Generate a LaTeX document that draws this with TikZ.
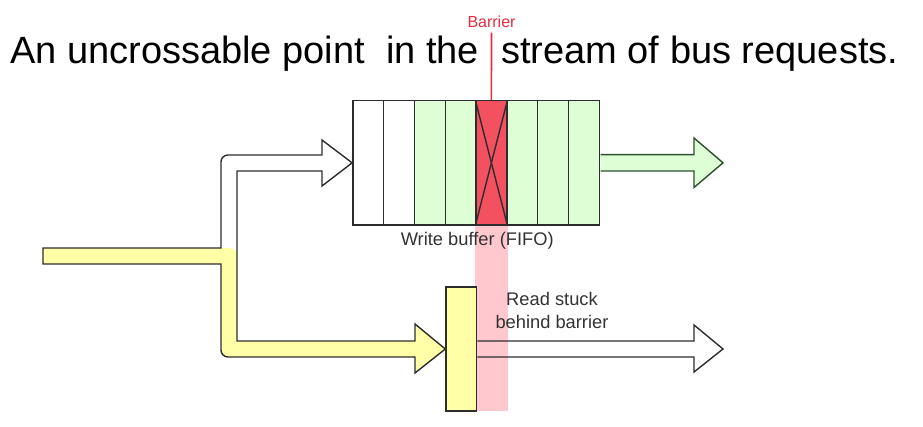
\documentclass[tikz,border=0pt]{standalone}
\usepackage{fontspec}
\setmainfont{Liberation Sans}
\usetikzlibrary{
  matrix,
  calc
}
\definecolor{slotgreen}{RGB}{222,255,213}
\definecolor{slotred}{RGB}{243,80,96}
\definecolor{bandpink}{RGB}{255,200,206}
\definecolor{gateyellow}{RGB}{255,255,168}
\definecolor{linegray}{RGB}{45,45,45}
\definecolor{greenline}{RGB}{48,78,48}
\definecolor{textgray}{RGB}{50,50,50}
\definecolor{barrierred}{RGB}{230,45,65}

\begin{document}
\begin{tikzpicture}[
  x=1pt,
  y=1pt,
  line/.style={
    draw=linegray,
    line width=1.4pt,
  },
  slot/.style={
    draw=linegray,
    line width=1.4pt,
    rectangle,
    fill=white,
    minimum width=30.8pt,
    minimum height=124.3pt,
    inner sep=0pt,
  },
  queued/.style={
    fill=slotgreen
  },
  blocked/.style={
    fill=slotred
  },
  fifo/.style={
    matrix of nodes,
    nodes={slot},
    nodes in empty cells,
    column sep=-1.4pt
  },
  gate/.style={
    line,
    fill=gateyellow,
    minimum width=30.6pt,
    minimum height=124pt,
    inner sep=0pt
  },
  caption/.style={
    text=textgray,
    font=\fontsize{18.3}{23}\selectfont,
    inner sep=0pt
  },
  headline/.style={
    font=\fontsize{38}{44}\selectfont,
    inner sep=0pt,
    anchor=base west
  },
  marker/.style={
    text=barrierred,
    font=\fontsize{16}{18}\selectfont,
    inner sep=0pt,
    anchor=base
  }
]
\useasboundingbox (0,0) rectangle (923,-427);

% Text row
\node[headline] (lead) at (10,-63.3) {An uncrossable point\ \ in the};
\node[headline] (tail) at (501,-63.3) {stream of bus requests.};
\node[marker] (barlbl) at (491.5,-27.7) {Barrier};

% Write buffer
\matrix[fifo] (buf) at (476,-162.85) {
  & & |[queued]| & |[queued]| & |[blocked]| & |[queued]| & |[queued]| & |[queued]| \\
};
\draw[linegray,line width=1.4pt] (buf-1-5.north west) -- (buf-1-5.south east);
\draw[linegray,line width=1.4pt] (buf-1-5.south west) -- (buf-1-5.north east);
\draw[barrierred,line width=1.6pt] ([yshift=-5pt]barlbl.base) -- (buf-1-5.north);
\fill[bandpink] ([yshift=-0.7pt]buf-1-5.south west) rectangle ([yshift=-185pt]buf-1-5.south east);
\node[caption, anchor=base] (buflbl) at ($(buf-1-4.south east)+(0.5,-20)$) {Write buffer (FIFO)};

% Read gate
\node[gate] (gate) at (461.3,-349) {};
\node[caption, align=center, anchor=north] (readlbl) at (552,-292) {Read stuck\\behind barrier};

\coordinate (wout) at (723,-162.8);
\coordinate (rout) at (723,-349);

% Arrows in
\fill[gateyellow] (43,-248) -- (230,-248) arc[start angle=90, end angle=0, radius=7]
  -- (237,-341) -- (415,-341) -- (415,-324) -- (gate.west) -- (415,-373) -- (415,-357)
  -- (228,-357) arc[start angle=270, end angle=180, radius=7] -- (221,-264) -- (43,-264) -- cycle;
\draw[line] (43,-248) -- (221,-248) -- (221,-162) arc[start angle=180, end angle=90, radius=7]
  -- (322,-155) -- (322,-140) -- (buf-1-1.west) -- (322,-186) -- (322,-171) -- (237,-171)
  -- (237,-341) -- (415,-341) -- (415,-324) -- (gate.west) -- (415,-373) -- (415,-357)
  -- (228,-357) arc[start angle=270, end angle=180, radius=7] -- (221,-264) -- (43,-264) -- cycle;

% Arrows out
\filldraw[line, draw=greenline, fill=slotgreen] ([shift={(0.7,8.2)}]buf-1-8.east) -- (694,-154.6)
  -- (694,-138) -- (wout) -- (694,-187.5) -- (694,-171) -- ([shift={(0.7,-8.2)}]buf-1-8.east);
\draw[line] ([yshift=8pt]gate.east) -- (694,-341) -- (694,-325) -- (rout)
  -- (694,-372) -- (694,-357) -- ([yshift=-8pt]gate.east);

\end{tikzpicture}
\end{document}
